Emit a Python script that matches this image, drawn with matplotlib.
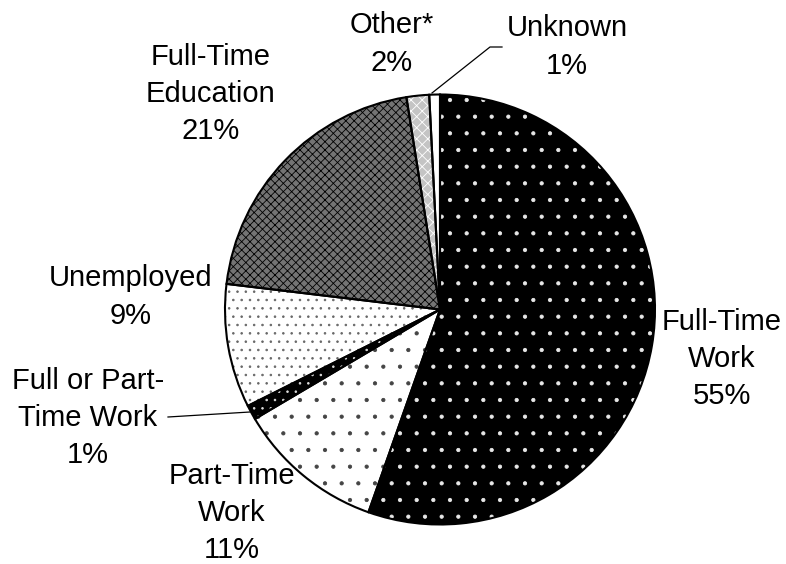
import matplotlib
matplotlib.use("Agg")
import matplotlib.pyplot as plt

# ---- data ----
categories = ["Full-Time\nWork", "Part-Time\nWork", "Full or Part-\nTime Work",
              "Unemployed", "Full-Time\nEducation", "Other*", "Unknown"]
values = [55.4, 11.1, 1.1, 9.3, 20.6, 1.7, 0.8]

# ---- styles ----
face_colors = ["black", "white", "black", "white", "#747474", "#c4c4c4", "white"]
hatch_colors = ["#e8e8e8", "#444444", "#dddddd", "#666666", "black", "white", "white"]
hatches = [".", ".", "..", "..", "xxxx", "xxx", ""]

label_pos = [(722, 359), (232, 513), (88, 418), (131, 297), (211, 94), (392, 44), (567, 47)]

plt.rcParams["hatch.linewidth"] = 0.6

W, H = 786, 564
fig = plt.figure(figsize=(W / 100, H / 100), dpi=100)
ax = fig.add_axes([0, 0, 1, 1])

cx, cy, r = 440, H - 309.5, 215

# filled + hatched wedges (no outline)
wedges, _ = ax.pie(values, startangle=90, counterclock=False, center=(cx, cy), radius=r,
                   colors=face_colors, frame=True,
                   wedgeprops=dict(linewidth=0))
for w, hc, h in zip(wedges, hatch_colors, hatches):
    w.set_edgecolor(hc)
    w.set_linewidth(0)
    w.set_hatch(h)

# outlines
ax.pie(values, startangle=90, counterclock=False, center=(cx, cy), radius=r,
       colors=["none"] * len(values), frame=True,
       wedgeprops=dict(linewidth=1.5, edgecolor="black", fill=False))

ax.set_xlim(0, W)
ax.set_ylim(0, H)
ax.set_aspect("equal")
ax.axis("off")

total = sum(values)
for cat, v, (x, y) in zip(categories, values, label_pos):
    pct = round(v / total * 100)
    ax.text(x, H - y, f"{cat}\n{pct:d}%", ha="center", va="center",
            fontsize=21, family="Liberation Sans", linespacing=1.42, color="black")

# leader lines
ax.plot([168, 250], [H - 417, H - 412], color="black", lw=0.9)
ax.plot([502, 490, 432], [H - 47, H - 47, H - 93], color="black", lw=0.9)

fig.savefig("out.png", dpi=100)
